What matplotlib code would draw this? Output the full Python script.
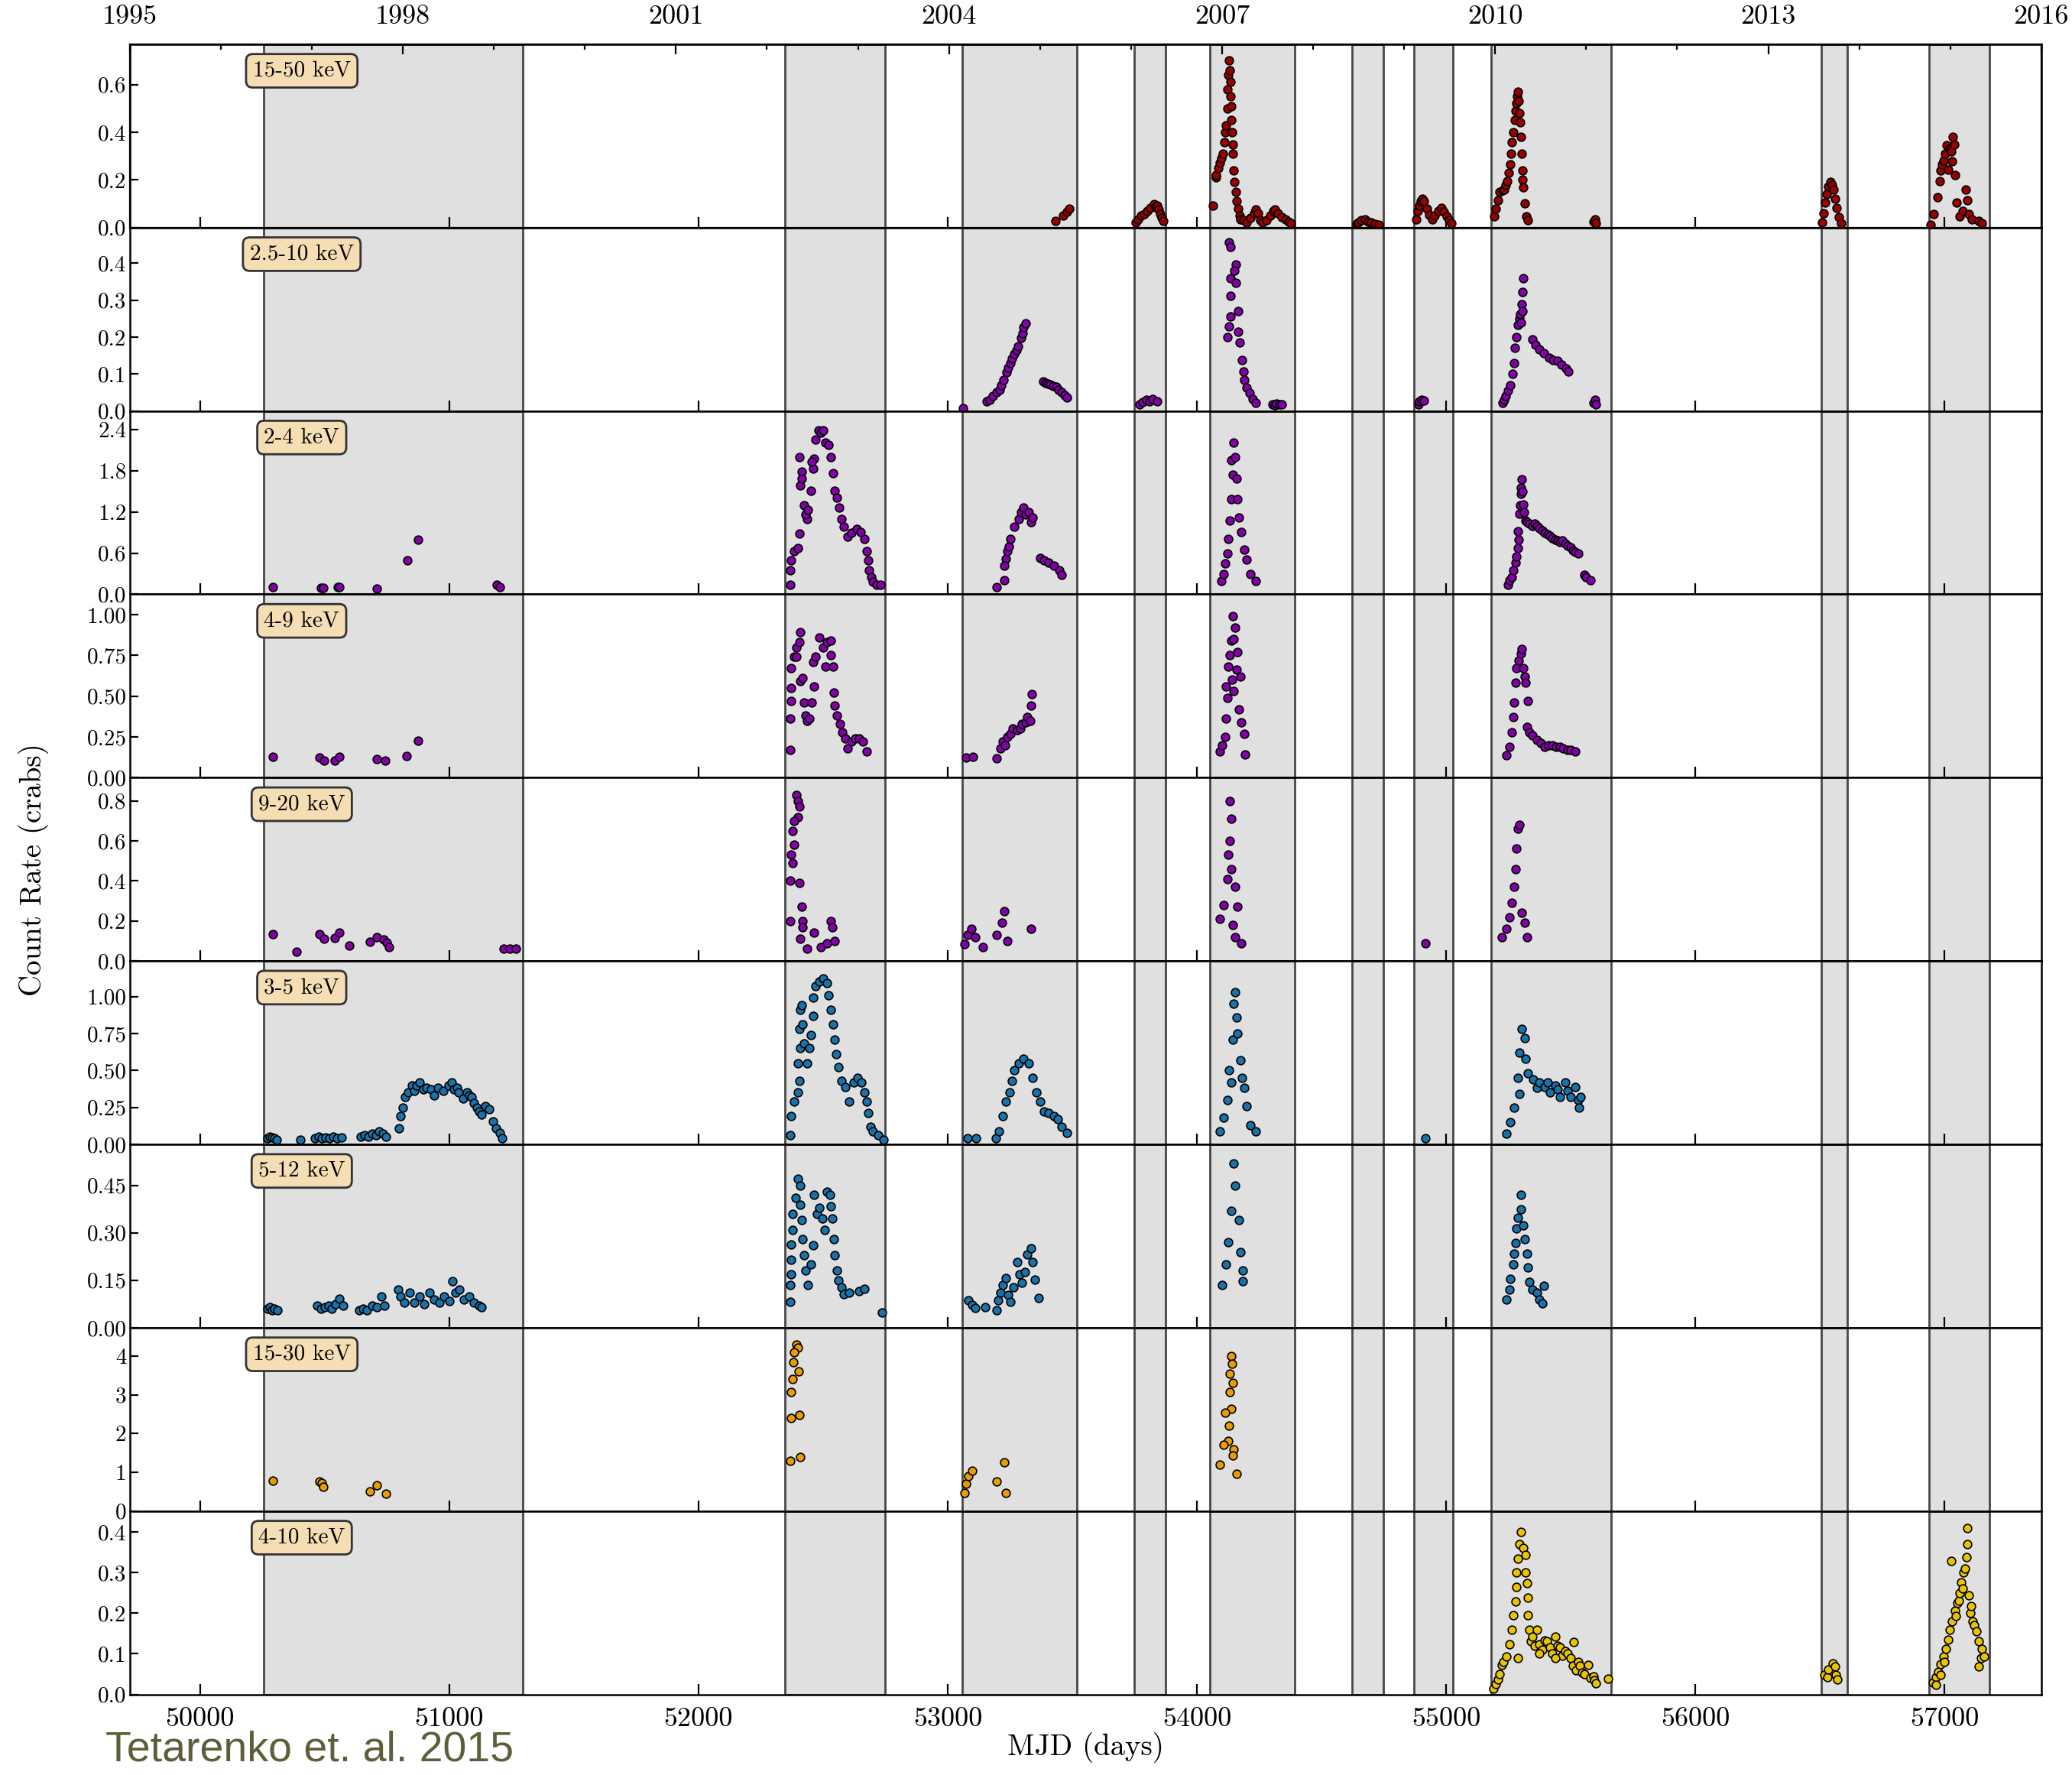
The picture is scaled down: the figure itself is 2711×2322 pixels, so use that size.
# plot.py - multi-band light curves (Tetarenko et al. 2015 style)
import numpy as np
import matplotlib
matplotlib.use("Agg")
import matplotlib.pyplot as plt

plt.rcParams["font.family"] = "cmr10"
plt.rcParams["axes.unicode_minus"] = False
plt.rcParams["axes.formatter.use_mathtext"] = True

# ---- data (MJD, count rate in crabs) ----
pts_1550 = [  # 15-50 keV
    (53431, 0.028), (53463, 0.05), (53479, 0.067), (53489, 0.078),
    (53755, 0.02), (53763, 0.035), (53775, 0.05), (53788, 0.058), (53800, 0.07), (53814, 0.081),
    (53827, 0.098), (53834, 0.085), (53840, 0.092), (53846, 0.075), (53853, 0.058), (53860, 0.04),
    (53865, 0.029),
    (54063, 0.092), (54075, 0.21), (54078, 0.22), (54085, 0.25), (54092, 0.27), (54099, 0.29),
    (54104, 0.31), (54109, 0.358), (54113, 0.40), (54117, 0.43), (54121, 0.50), (54124, 0.58),
    (54127, 0.64), (54130, 0.70), (54132, 0.66), (54135, 0.61), (54136, 0.55), (54137, 0.51),
    (54139, 0.45), (54140, 0.40), (54143, 0.35), (54145, 0.31), (54148, 0.24), (54151, 0.19),
    (54155, 0.15), (54160, 0.11), (54166, 0.08), (54171, 0.05), (54176, 0.035), (54186, 0.03),
    (54200, 0.02), (54215, 0.04), (54230, 0.06), (54237, 0.075), (54245, 0.06), (54255, 0.03),
    (54265, 0.02), (54280, 0.03), (54295, 0.05), (54307, 0.07), (54314, 0.075), (54325, 0.06),
    (54340, 0.045), (54355, 0.035), (54368, 0.025), (54378, 0.017),
    (54640, 0.015), (54648, 0.023), (54660, 0.03), (54674, 0.035), (54686, 0.025), (54699, 0.02),
    (54715, 0.015), (54730, 0.012),
    (54879, 0.035), (54885, 0.07), (54892, 0.092), (54898, 0.11), (54904, 0.121), (54912, 0.11),
    (54922, 0.08), (54932, 0.055), (54943, 0.035), (54955, 0.05), (54969, 0.069), (54981, 0.081),
    (54990, 0.065), (55002, 0.046), (55012, 0.03), (55020, 0.017),
    (55192, 0.046), (55200, 0.08), (55207, 0.115), (55215, 0.15), (55225, 0.155), (55232, 0.16),
    (55240, 0.18), (55246, 0.196), (55250, 0.23), (55256, 0.265), (55260, 0.31), (55264, 0.358),
    (55268, 0.40), (55274, 0.45), (55278, 0.49), (55282, 0.52), (55286, 0.55), (55289, 0.571),
    (55291, 0.53), (55294, 0.48), (55297, 0.44), (55299, 0.38), (55302, 0.31), (55305, 0.24),
    (55307, 0.20), (55310, 0.17), (55315, 0.10), (55320, 0.046), (55328, 0.03),
    (55592, 0.025), (55597, 0.035), (55602, 0.017),
    (56508, 0.023), (56515, 0.06), (56521, 0.104), (56528, 0.14), (56534, 0.173), (56541, 0.19),
    (56548, 0.18), (56554, 0.16), (56560, 0.12), (56567, 0.081), (56575, 0.045), (56585, 0.017),
    (56944, 0.012), (56957, 0.058), (56970, 0.127), (56982, 0.196), (56985, 0.24), (56990, 0.265),
    (56995, 0.28), (57002, 0.31), (57009, 0.346), (57020, 0.33), (57027, 0.32), (57034, 0.38),
    (57038, 0.35), (57030, 0.277), (57015, 0.242), (57042, 0.219), (57047, 0.104), (57060, 0.046),
    (57072, 0.069), (57085, 0.16), (57092, 0.115), (57098, 0.058), (57110, 0.035), (57136, 0.029),
    (57149, 0.017),
]

pts_2510 = [  # 2.5-10 keV
    (53060, 0.007), (53155, 0.025), (53168, 0.03), (53182, 0.04), (53195, 0.05), (53208, 0.058),
    (53216, 0.07), (53224, 0.083), (53235, 0.104), (53243, 0.118), (53251, 0.13), (53259, 0.142),
    (53267, 0.155), (53275, 0.165), (53283, 0.176), (53293, 0.198), (53300, 0.21), (53304, 0.227),
    (53314, 0.238), (53383, 0.079), (53392, 0.075), (53401, 0.074), (53410, 0.072), (53422, 0.068),
    (53436, 0.065), (53446, 0.058), (53458, 0.05), (53468, 0.042), (53479, 0.036),
    (53770, 0.018), (53782, 0.024), (53796, 0.03), (53810, 0.026), (53822, 0.032), (53840, 0.026),
    (54130, 0.456), (54135, 0.445), (54155, 0.396), (54150, 0.38), (54135, 0.36), (54155, 0.348),
    (54135, 0.311), (54166, 0.27), (54135, 0.256), (54130, 0.23), (54166, 0.215), (54122, 0.20),
    (54173, 0.185), (54181, 0.137), (54186, 0.107), (54191, 0.085), (54199, 0.063), (54212, 0.048),
    (54225, 0.033), (54237, 0.022), (54302, 0.018), (54312, 0.016), (54320, 0.02), (54330, 0.017),
    (54340, 0.018),
    (54888, 0.018), (54892, 0.026), (54900, 0.03), (54910, 0.029),
    (55225, 0.022), (55232, 0.03), (55238, 0.04), (55248, 0.055), (55258, 0.07), (55265, 0.10),
    (55271, 0.13), (55276, 0.17), (55283, 0.20), (55289, 0.233), (55293, 0.25), (55297, 0.263),
    (55302, 0.29), (55307, 0.322), (55310, 0.36), (55300, 0.24), (55305, 0.27),
    (55346, 0.193), (55359, 0.18), (55374, 0.167), (55392, 0.156), (55412, 0.144), (55430, 0.137),
    (55448, 0.135), (55464, 0.126), (55482, 0.115), (55489, 0.107),
    (55592, 0.022), (55597, 0.03), (55600, 0.018),
]

pts_0204 = [  # 2-4 keV
    (50291, 0.105), (50485, 0.09), (50495, 0.09), (50552, 0.1), (50560, 0.1), (50710, 0.085),
    (50831, 0.49), (50874, 0.79), (51191, 0.14), (51204, 0.11),
    (52368, 0.14), (52368, 0.35), (52373, 0.49), (52384, 0.63), (52399, 0.67), (52404, 0.88),
    (52409, 1.58), (52404, 2.0), (52414, 1.79), (52414, 1.69), (52424, 1.30), (52435, 1.09),
    (52430, 1.16), (52440, 1.23), (52450, 1.51), (52460, 1.83), (52465, 1.97), (52455, 1.93),
    (52470, 2.25), (52481, 2.39), (52491, 2.35), (52501, 2.39), (52511, 2.21), (52522, 2.18),
    (52532, 2.0), (52539, 1.76), (52547, 1.51), (52557, 1.41), (52566, 1.26), (52573, 1.09),
    (52583, 0.98), (52598, 0.84), (52614, 0.90), (52634, 0.95), (52649, 0.91), (52665, 0.81),
    (52675, 0.63), (52680, 0.49), (52685, 0.35), (52692, 0.25), (52701, 0.18), (52716, 0.14),
    (52731, 0.14),
    (53197, 0.105), (53227, 0.21), (53232, 0.52), (53227, 0.42), (53238, 0.63), (53245, 0.70),
    (53253, 0.81), (53268, 0.98), (53284, 1.09), (53295, 1.2), (53304, 1.26), (53314, 1.16),
    (53325, 1.2), (53335, 1.05), (53340, 1.12), (53371, 0.53), (53386, 0.49), (53406, 0.46),
    (53427, 0.42), (53447, 0.35), (53457, 0.28),
    (54097, 0.19), (54107, 0.29), (54112, 0.45), (54122, 0.60), (54127, 0.81), (54133, 1.07),
    (54138, 1.38), (54143, 1.74), (54138, 1.95), (54148, 2.21), (54153, 2.0), (54158, 1.69),
    (54163, 1.38), (54168, 1.12), (54179, 0.91), (54189, 0.65), (54199, 0.50), (54214, 0.29),
    (54235, 0.19),
    (55247, 0.14), (55255, 0.2), (55263, 0.25), (55270, 0.35), (55278, 0.46), (55283, 0.55),
    (55288, 0.67), (55292, 0.8), (55288, 0.92), (55294, 1.17), (55296, 1.3), (55299, 1.46),
    (55301, 1.55), (55304, 1.67), (55306, 1.5), (55309, 1.31), (55312, 1.2), (55319, 1.07),
    (55325, 1.05), (55334, 1.03), (55345, 1.0), (55355, 1.03), (55365, 1.0), (55375, 0.96),
    (55386, 0.93), (55396, 0.89), (55406, 0.87), (55416, 0.85), (55426, 0.82), (55437, 0.8),
    (55447, 0.78), (55457, 0.76), (55467, 0.78), (55478, 0.74), (55488, 0.71), (55498, 0.68),
    (55508, 0.64), (55519, 0.62), (55529, 0.60), (55554, 0.28), (55560, 0.25), (55580, 0.21),
]

pts_0409 = [  # 4-9 keV
    (50291, 0.127), (50480, 0.124), (50498, 0.104), (50541, 0.104), (50560, 0.13), (50710, 0.112),
    (50744, 0.104), (50828, 0.133), (50874, 0.225),
    (52368, 0.17), (52368, 0.36), (52373, 0.47), (52373, 0.55), (52373, 0.67), (52384, 0.74),
    (52394, 0.80), (52409, 0.89), (52404, 0.83), (52394, 0.74), (52409, 0.59), (52419, 0.61),
    (52424, 0.46), (52430, 0.38), (52435, 0.35), (52445, 0.36), (52455, 0.46), (52465, 0.56),
    (52460, 0.71), (52470, 0.74), (52486, 0.86), (52501, 0.80), (52516, 0.83), (52511, 0.68),
    (52532, 0.84), (52539, 0.68), (52532, 0.75), (52542, 0.52), (52547, 0.44), (52557, 0.38),
    (52568, 0.33), (52578, 0.28), (52588, 0.24), (52598, 0.18), (52614, 0.22), (52629, 0.24),
    (52644, 0.24), (52660, 0.22), (52675, 0.16),
    (53074, 0.124), (53100, 0.13), (53197, 0.118), (53212, 0.18), (53222, 0.22), (53230, 0.2),
    (53238, 0.25), (53253, 0.27), (53260, 0.3), (53278, 0.29), (53290, 0.3), (53299, 0.33),
    (53314, 0.34), (53320, 0.37), (53330, 0.35), (53335, 0.44), (53337, 0.51),
    (54143, 0.99), (54153, 0.92), (54138, 0.84), (54163, 0.77), (54127, 0.68), (54158, 0.66),
    (54117, 0.56), (54148, 0.53), (54174, 0.62), (54122, 0.49), (54168, 0.42), (54117, 0.36),
    (54179, 0.34), (54112, 0.25), (54189, 0.27), (54092, 0.16), (54194, 0.14), (54133, 0.75),
    (54148, 0.85), (54140, 0.6), (54102, 0.2),
    (55242, 0.135), (55253, 0.19), (55263, 0.28), (55268, 0.37), (55273, 0.46), (55278, 0.58),
    (55283, 0.67), (55290, 0.72), (55299, 0.76), (55304, 0.79), (55309, 0.67), (55314, 0.62),
    (55319, 0.58), (55329, 0.47), (55324, 0.31), (55335, 0.28), (55345, 0.26), (55365, 0.23),
    (55380, 0.21), (55396, 0.19), (55410, 0.2), (55426, 0.20), (55440, 0.19), (55457, 0.19),
    (55470, 0.18), (55488, 0.17), (55500, 0.17), (55519, 0.16),
]

pts_0920 = [  # 9-20 keV
    (50291, 0.135), (50386, 0.048), (50480, 0.135), (50498, 0.113), (50541, 0.116), (50560, 0.14),
    (50598, 0.077), (50683, 0.096), (50710, 0.12), (50736, 0.108), (50748, 0.092), (50758, 0.068),
    (51218, 0.06), (51243, 0.06), (51269, 0.06),
    (52394, 0.83), (52399, 0.80), (52404, 0.77), (52399, 0.72), (52384, 0.70), (52378, 0.65),
    (52384, 0.58), (52373, 0.53), (52378, 0.49), (52368, 0.40), (52404, 0.39), (52414, 0.27),
    (52368, 0.20), (52419, 0.20), (52419, 0.17), (52409, 0.11), (52435, 0.06), (52465, 0.14),
    (52491, 0.07), (52516, 0.09), (52532, 0.20), (52537, 0.17), (52547, 0.10),
    (53069, 0.084), (53079, 0.13), (53094, 0.16), (53110, 0.12), (53140, 0.07), (53197, 0.13),
    (53217, 0.19), (53227, 0.25), (53238, 0.10), (53335, 0.16),
    (54133, 0.80), (54138, 0.71), (54133, 0.60), (54127, 0.53), (54138, 0.46), (54122, 0.41),
    (54153, 0.37), (54107, 0.28), (54163, 0.27), (54092, 0.21), (54143, 0.18), (54179, 0.09),
    (54153, 0.12),
    (54916, 0.09),
    (55222, 0.12), (55242, 0.16), (55253, 0.22), (55263, 0.29), (55273, 0.37), (55278, 0.46),
    (55283, 0.56), (55288, 0.66), (55294, 0.68), (55304, 0.24), (55314, 0.19), (55324, 0.12),
]

pts_0305 = [  # 3-5 keV
    (50270, 0.04), (50280, 0.05), (50290, 0.045), (50300, 0.04), (50307, 0.03), (50402, 0.03),
    (50461, 0.04), (50475, 0.05), (50490, 0.04), (50505, 0.045), (50520, 0.04), (50535, 0.05),
    (50550, 0.04), (50568, 0.045), (50645, 0.05), (50660, 0.06), (50675, 0.05), (50690, 0.07),
    (50705, 0.06), (50720, 0.09), (50735, 0.07), (50747, 0.05),
    (50798, 0.11), (50803, 0.19), (50813, 0.25), (50824, 0.32), (50834, 0.35), (50849, 0.40),
    (50860, 0.36), (50870, 0.40), (50880, 0.42), (50895, 0.37), (50910, 0.38), (50926, 0.37),
    (50940, 0.33), (50956, 0.385), (50975, 0.36), (50998, 0.40), (51010, 0.42), (51018, 0.37),
    (51030, 0.38), (51039, 0.35), (51055, 0.31), (51070, 0.35), (51080, 0.33), (51090, 0.32),
    (51100, 0.28), (51110, 0.25), (51120, 0.22), (51131, 0.20), (51145, 0.26), (51161, 0.24),
    (51177, 0.157), (51187, 0.108), (51202, 0.075), (51213, 0.04),
    (52368, 0.06), (52373, 0.19), (52384, 0.29), (52399, 0.35), (52404, 0.43), (52399, 0.55),
    (52409, 0.65), (52404, 0.78), (52409, 0.91), (52414, 0.94), (52419, 0.81), (52424, 0.68),
    (52435, 0.55), (52445, 0.65), (52450, 0.74), (52460, 0.87), (52460, 0.99), (52470, 1.07),
    (52486, 1.10), (52501, 1.12), (52516, 1.09), (52522, 1.01), (52532, 0.91), (52539, 0.81),
    (52547, 0.71), (52552, 0.61), (52562, 0.52), (52573, 0.43), (52588, 0.39), (52603, 0.29),
    (52624, 0.42), (52639, 0.45), (52655, 0.42), (52665, 0.35), (52675, 0.29), (52680, 0.21),
    (52690, 0.12), (52701, 0.09), (52721, 0.06), (52741, 0.03),
    (53079, 0.04), (53115, 0.04), (53192, 0.04), (53207, 0.09), (53222, 0.19), (53233, 0.29),
    (53248, 0.35), (53258, 0.43), (53268, 0.50), (53284, 0.55), (53304, 0.58), (53325, 0.55),
    (53340, 0.45), (53355, 0.35), (53371, 0.29), (53386, 0.22), (53406, 0.21), (53427, 0.19),
    (53442, 0.17), (53457, 0.12), (53478, 0.075),
    (54153, 1.03), (54158, 0.86), (54143, 0.71), (54174, 0.57), (54138, 0.42), (54189, 0.38),
    (54122, 0.30), (54199, 0.26), (54107, 0.18), (54214, 0.13), (54092, 0.087), (54235, 0.087),
    (54148, 0.95), (54163, 0.75), (54130, 0.5), (54180, 0.45),
    (54916, 0.04),
    (55242, 0.07), (55258, 0.15), (55273, 0.25), (55294, 0.34), (55288, 0.45), (55294, 0.62),
    (55304, 0.78), (55314, 0.72), (55319, 0.58), (55329, 0.48), (55350, 0.44), (55365, 0.38),
    (55375, 0.42), (55396, 0.39), (55406, 0.42), (55416, 0.35), (55437, 0.40), (55447, 0.37),
    (55457, 0.32), (55478, 0.42), (55488, 0.36), (55498, 0.32), (55519, 0.39), (55530, 0.3),
    (55534, 0.25), (55539, 0.32),
]

pts_0512 = [  # 5-12 keV
    (50270, 0.06), (50280, 0.065), (50290, 0.055), (50300, 0.06), (50310, 0.055), (50470, 0.07),
    (50485, 0.06), (50500, 0.065), (50515, 0.07), (50530, 0.06), (50545, 0.075), (50560, 0.092),
    (50575, 0.07), (50640, 0.055), (50655, 0.06), (50670, 0.055), (50690, 0.07), (50710, 0.065),
    (50727, 0.10), (50740, 0.07), (50795, 0.12), (50805, 0.10), (50820, 0.08), (50840, 0.11),
    (50860, 0.08), (50880, 0.10), (50900, 0.075), (50920, 0.11), (50940, 0.09), (50960, 0.08),
    (50980, 0.10), (51000, 0.085), (51013, 0.148), (51025, 0.11), (51040, 0.12), (51060, 0.09),
    (51080, 0.10), (51100, 0.08), (51120, 0.07), (51131, 0.065),
    (52368, 0.083), (52368, 0.135), (52373, 0.168), (52373, 0.216), (52373, 0.264), (52378, 0.31),
    (52378, 0.36), (52389, 0.41), (52399, 0.47), (52409, 0.45), (52409, 0.39), (52414, 0.34),
    (52419, 0.28), (52424, 0.23), (52430, 0.18), (52440, 0.135), (52450, 0.20), (52460, 0.26),
    (52465, 0.42), (52475, 0.36), (52486, 0.38), (52496, 0.345), (52506, 0.31), (52516, 0.43),
    (52527, 0.42), (52532, 0.385), (52537, 0.345), (52542, 0.28), (52547, 0.23), (52557, 0.18),
    (52562, 0.15), (52573, 0.127), (52583, 0.107), (52603, 0.11), (52644, 0.115), (52665, 0.123),
    (52736, 0.047),
    (53084, 0.087), (53099, 0.071), (53110, 0.063), (53151, 0.064), (53197, 0.055), (53202, 0.087),
    (53212, 0.111), (53222, 0.135), (53233, 0.156), (53243, 0.103), (53253, 0.083), (53263, 0.127),
    (53278, 0.208), (53289, 0.168), (53299, 0.143), (53309, 0.176), (53319, 0.232), (53335, 0.252),
    (53340, 0.208), (53350, 0.152), (53365, 0.095),
    (54148, 0.52), (54153, 0.45), (54138, 0.37), (54168, 0.34), (54127, 0.27), (54174, 0.24),
    (54117, 0.20), (54184, 0.18), (54102, 0.135), (54184, 0.146),
    (55242, 0.088), (55253, 0.12), (55258, 0.155), (55268, 0.20), (55273, 0.234), (55278, 0.268),
    (55283, 0.313), (55288, 0.347), (55299, 0.375), (55299, 0.42), (55309, 0.324), (55314, 0.28),
    (55324, 0.234), (55329, 0.19), (55334, 0.144), (55345, 0.12), (55365, 0.11), (55375, 0.088),
    (55386, 0.077), (55391, 0.133),
]

pts_1530 = [  # 15-30 keV
    (50291, 0.78), (50480, 0.76), (50488, 0.72), (50495, 0.62), (50683, 0.51), (50710, 0.67),
    (50747, 0.44),
    (52394, 4.29), (52399, 4.22), (52384, 4.09), (52382, 3.83), (52402, 3.6), (52378, 3.4),
    (52373, 3.07), (52371, 2.41), (52404, 2.48), (52368, 1.29), (52409, 1.39),
    (53069, 0.47), (53074, 0.70), (53084, 0.90), (53099, 1.03), (53197, 0.77), (53227, 1.26),
    (53233, 0.47),
    (54138, 4.0), (54140, 3.8), (54133, 3.54), (54145, 3.3), (54133, 3.08), (54138, 2.63),
    (54112, 2.53), (54130, 2.2), (54127, 1.80), (54107, 1.71), (54148, 1.6), (54143, 1.43),
    (54092, 1.19), (54158, 0.97),
]

pts_0410 = [  # 4-10 keV
    (55191, 0.015), (55200, 0.025), (55207, 0.037), (55215, 0.05), (55222, 0.072), (55230, 0.08),
    (55242, 0.094), (55253, 0.124), (55263, 0.159), (55268, 0.194), (55278, 0.229), (55283, 0.264),
    (55283, 0.30), (55288, 0.334), (55294, 0.37), (55299, 0.40), (55309, 0.36), (55319, 0.343),
    (55319, 0.30), (55324, 0.273), (55329, 0.238), (55329, 0.194), (55334, 0.159), (55340, 0.13),
    (55345, 0.142), (55355, 0.12), (55365, 0.159), (55375, 0.124), (55385, 0.11), (55396, 0.133),
    (55405, 0.13), (55416, 0.115), (55425, 0.10), (55437, 0.142), (55447, 0.12), (55457, 0.115),
    (55467, 0.095), (55478, 0.107), (55488, 0.10), (55498, 0.089), (55508, 0.07), (55513, 0.129),
    (55520, 0.06), (55529, 0.08), (55535, 0.07), (55544, 0.054), (55555, 0.05), (55570, 0.072),
    (55580, 0.04), (55590, 0.045), (55595, 0.035), (55600, 0.028), (55651, 0.038),
    (55288, 0.089), (55375, 0.10), (55437, 0.089),
    (56519, 0.049), (56529, 0.043), (56534, 0.061), (56550, 0.077), (56560, 0.068), (56565, 0.049),
    (56570, 0.036),
    (56954, 0.030), (56964, 0.043), (56974, 0.055), (56984, 0.074), (56995, 0.093), (57005, 0.112),
    (57015, 0.134), (57020, 0.159), (57030, 0.18), (57041, 0.206), (57051, 0.224), (57056, 0.23),
    (57061, 0.25), (57066, 0.275), (57071, 0.26), (57076, 0.30), (57082, 0.31), (57087, 0.337),
    (57092, 0.369), (57092, 0.41), (57025, 0.328), (57097, 0.243), (57102, 0.2), (57107, 0.218),
    (57112, 0.18), (57120, 0.17), (57128, 0.155), (57138, 0.13), (57145, 0.09), (57148, 0.112),
    (57158, 0.093), (57138, 0.068), (56964, 0.024), (56984, 0.049), (57000, 0.080), (57046, 0.193),
]

# shaded outburst windows (MJD)
spans = [(50255, 51295), (52348, 52750), (53057, 53518), (53747, 53873), (54053, 54391),
         (54622, 54748), (54871, 55028), (55180, 55661), (56505, 56608), (56937, 57181)]

bands = ["15-50 keV", "2.5-10 keV", "2-4 keV", "4-9 keV", "9-20 keV",
         "3-5 keV", "5-12 keV", "15-30 keV", "4-10 keV"]
ymax = [0.769, 0.497, 2.67, 1.124, 0.916, 1.24, 0.58, 4.73, 0.451]
yticks = [[0, 0.2, 0.4, 0.6], [0, 0.1, 0.2, 0.3, 0.4], [0, 0.6, 1.2, 1.8, 2.4],
          [0, 0.25, 0.5, 0.75, 1.0], [0, 0.2, 0.4, 0.6, 0.8], [0, 0.25, 0.5, 0.75, 1.0],
          [0, 0.15, 0.30, 0.45], [0, 1, 2, 3, 4], [0, 0.1, 0.2, 0.3, 0.4]]
ylabels = [["0.0", "0.2", "0.4", "0.6"], ["0.0", "0.1", "0.2", "0.3", "0.4"],
           ["0.0", "0.6", "1.2", "1.8", "2.4"], ["0.00", "0.25", "0.50", "0.75", "1.00"],
           ["0.0", "0.2", "0.4", "0.6", "0.8"], ["0.00", "0.25", "0.50", "0.75", "1.00"],
           ["0.00", "0.15", "0.30", "0.45"], ["0", "1", "2", "3", "4"],
           ["0.0", "0.1", "0.2", "0.3", "0.4"]]
colors = ["#9a0000", "#8400a8", "#8400a8", "#8400a8", "#8400a8",
          "#1a72aa", "#1a72aa", "#ea9c00", "#e8c400"]
mjd_ticks = [50000, 51000, 52000, 53000, 54000, 55000, 56000, 57000]
years = list(range(1995, 2017))
year_labels = [1995, 1998, 2001, 2004, 2007, 2010, 2013, 2016]
XLIM = (49718, 57388)   # 1995.0 -> 2016.0

panels = [pts_1550, pts_2510, pts_0204, pts_0409, pts_0920, pts_0305, pts_0512, pts_1530, pts_0410]

fig, axes = plt.subplots(9, 1, sharex=True, figsize=(13.555, 11.61), dpi=200)
fig.subplots_adjust(left=0.0626, right=0.9852, top=0.9751, bottom=0.0454, hspace=0)

for i, ax in enumerate(axes):
    for a, b in spans:
        ax.axvspan(a, b, facecolor="#e0e0e0", edgecolor="0.28", lw=1.0, zorder=0)
    t, r = np.array(panels[i]).T
    ax.scatter(t, r, s=15, c=colors[i], edgecolors="k", linewidths=0.6, zorder=3)
    ax.set_xlim(*XLIM)
    ax.set_ylim(0, ymax[i])
    ax.set_yticks(yticks[i])
    ax.set_yticklabels(ylabels[i])
    ax.set_xticks(mjd_ticks)
    ax.tick_params(axis="y", direction="in", length=4, width=0.8, labelsize=10.5, pad=1.5,
                   right=False)
    ax.tick_params(axis="x", direction="in", length=5, width=0.8, labelsize=13, pad=6,
                   top=False)
    for sp in ax.spines.values():
        sp.set_linewidth(0.9)
    ax.text(0.09, 0.855, bands[i], transform=ax.transAxes, ha="center", va="center",
            fontsize=10.5, zorder=5,
            bbox=dict(boxstyle="round,pad=0.3", facecolor="wheat", edgecolor="0.2", lw=1.0))

axes[-1].set_xticklabels([str(m) for m in mjd_ticks])

# calendar years on top
top = axes[0].twiny()
top.set_xlim(1995, 2016)
top.set_xticks(year_labels)
top.set_xticklabels([str(y) for y in year_labels])
top.set_xticks(years, minor=True)
top.tick_params(axis="x", which="major", direction="in", length=4.5, width=0.8,
                labelsize=13, pad=7)
top.tick_params(axis="x", which="minor", direction="in", length=2.6, width=0.8)

fig.text(0.016, 0.51, "Count Rate (crabs)", rotation=90, ha="center", va="center", fontsize=14)
fig.text(0.5238, 0.0155, "MJD (days)", ha="center", va="center", fontsize=14)
fig.text(0.051, 0.003, "Tetarenko et. al. 2015", ha="left", va="bottom", fontsize=20,
         color="#5e5e3a", family=["Liberation Sans", "DejaVu Sans"])

fig.savefig("out.png", dpi=200)
